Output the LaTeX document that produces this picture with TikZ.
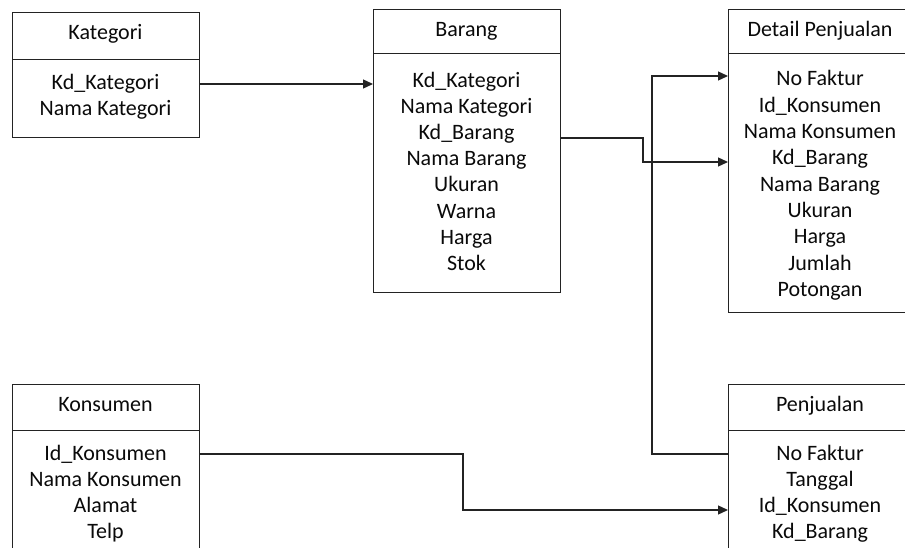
\documentclass[tikz,border=0pt]{standalone}
\usepackage{fontspec}
\setmainfont{Carlito}
\usetikzlibrary{arrows.meta}
\definecolor{linec}{RGB}{35,35,35}
\definecolor{txtc}{RGB}{10,10,10}
\tikzset{
  box/.style={draw=linec, line width=1.3pt, anchor=north west, inner sep=0pt, minimum width=187pt},
  lbl/.style={anchor=base, inner sep=0pt, font=\fontsize{22}{26}\selectfont, text=txtc},
  conn/.style={draw=linec, line width=1.3pt},
  arr/.style={conn, -{Triangle[length=10pt,width=9pt]}},
}
\begin{document}
\begin{tikzpicture}[x=1pt,y=-1pt]
\useasboundingbox (0,0) rectangle (905,548);
\clip (0,0) rectangle (905,548);
\fill[white] (0,0) rectangle (905,548);
% Kategori
\node[box, minimum height=47pt] (kath) at (12,12) {};
\node[box, minimum height=78pt] (katb) at (12,59) {};
\node[lbl] (katt) at (105.5,39.5) {Kategori};
\foreach \t [count=\i from 0] in {Kd\_Kategori, Nama Kategori}
  \node[lbl] (kat\i) at (105.5,89.3+26*\i) {\t};
% Barang
\node[box, minimum height=44pt] (barh) at (373,9) {};
\node[box, minimum height=239pt] (barb) at (373,53) {};
\node[lbl] (bart) at (466.5,36.7) {Barang};
\foreach \t [count=\i from 0] in {Kd\_Kategori, Nama Kategori, Kd\_Barang, Nama Barang, Ukuran, Warna, Harga, Stok}
  \node[lbl] (bar\i) at (466.5,87.3+26.15*\i) {\t};
% Detail Penjualan
\node[box, minimum height=44pt] (deth) at (728,9) {};
\node[box, minimum height=259pt] (detb) at (728,53) {};
\node[lbl] (dett) at (820,36.7) {Detail Penjualan};
\foreach \t [count=\i from 0] in {No Faktur, Id\_Konsumen, Nama Konsumen, Kd\_Barang, Nama Barang, Ukuran, Harga, Jumlah, Potongan}
  \node[lbl] (det\i) at (820,85.7+26.35*\i) {\t};
% Konsumen
\node[box, minimum height=46pt] (konh) at (12,384) {};
\node[box, minimum height=140pt] (konb) at (12,430) {};
\node[lbl] (kont) at (105.5,411.5) {Konsumen};
\foreach \t [count=\i from 0] in {Id\_Konsumen, Nama Konsumen, Alamat, Telp}
  \node[lbl] (kon\i) at (105.5,460.7+26*\i) {\t};
% Penjualan
\node[box, minimum height=46pt] (penh) at (728,384) {};
\node[box, minimum height=140pt] (penb) at (728,430) {};
\node[lbl] (pent) at (820,411.3) {Penjualan};
\foreach \t [count=\i from 0] in {No Faktur, Tanggal, Id\_Konsumen, Kd\_Barang}
  \node[lbl] (pen\i) at (820,460.7+26*\i) {\t};
% connectors
\coordinate (bendA) at (643,138);
\coordinate (bendB) at (652,454);
\coordinate (bendC) at (463,454);
\draw[arr] (katb.east |- 0,84) -- (barb.west |- 0,84);
\draw[arr] (barb.east |- bendA) -- (bendA) |- (detb.west |- 0,162);
\draw[arr] (penb.west |- bendB) -- (bendB) |- (detb.west |- 0,76);
\draw[arr] (konb.east |- bendC) -- (bendC) |- (penb.west |- 0,510);
\end{tikzpicture}
\end{document}
